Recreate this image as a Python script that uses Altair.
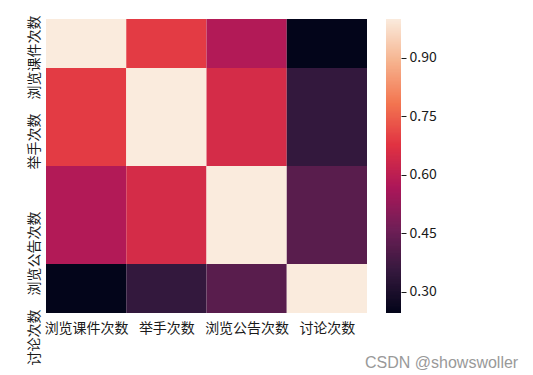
import altair as alt
import numpy as np
import pandas as pd

# ---- data -------------------------------------------------------------
labels = ["浏览课件次数", "举手次数", "浏览公告次数", "讨论次数"]
row0 = [1.00, 0.69, 0.58, 0.246]
row1 = [0.69, 1.00, 0.65, 0.35]
row2 = [0.58, 0.65, 1.00, 0.42]
row3 = [0.246, 0.35, 0.42, 1.00]
matrix = [row0, row1, row2, row3]
colorbar_ticks = [0.30, 0.45, 0.60, 0.75, 0.90]
rocket = ["#03051a", "#35193e", "#701f57", "#ad1759",
          "#e13342", "#f37651", "#f6b48f", "#faebdd"]
watermark = "CSDN @showswoller"

# ---- tables -------------------------------------------------------------
records = []
for r, row in enumerate(matrix):
    for c, v in enumerate(row):
        records.append({"row": r, "row_end": r + 1, "col": c, "col_end": c + 1, "value": v})
df = pd.DataFrame(records)

vmin = min(min(r) for r in matrix)
vmax = max(max(r) for r in matrix)

# colour-bar gradient strips (overlapping slightly so no seams show)
steps = np.linspace(vmin, vmax, 256)
step = steps[1] - steps[0]
cb = pd.DataFrame({"lo": steps[:-1]})
cb["hi"] = np.minimum(cb["lo"] + 2 * step, vmax)
cb["mid"] = cb["lo"] + step / 2

color_scale = alt.Scale(domain=[vmin, vmax], range=rocket, interpolate="rgb")

label_js = "[" + ",".join("'" + l + "'" for l in labels) + "]"
label_expr = label_js + "[floor(datum.value)]"
tick_pos = [i + 0.5 for i in range(len(labels))]

FONT = "Noto Sans CJK SC"
TXT = "#1a1a1a"

heat = alt.Chart(df).mark_rect(clip=True).encode(
    x=alt.X("col:Q",
            scale=alt.Scale(domain=[0, len(labels)], nice=False, zero=False),
            axis=alt.Axis(values=tick_pos, labelExpr=label_expr, title=None,
                          ticks=False, domain=False, grid=False, labelAngle=0,
                          labelPadding=8, labelFontSize=14, labelFont=FONT,
                          labelColor=TXT, labelFlush=False, labelOverlap=False)),
    x2="col_end:Q",
    y=alt.Y("row:Q",
            scale=alt.Scale(domain=[0.5, len(labels) - 0.5], nice=False, zero=False, reverse=True),
            axis=alt.Axis(values=tick_pos, labelExpr=label_expr, title=None,
                          ticks=False, domain=False, grid=False, labelAngle=270,
                          labelAlign="right", labelBaseline="bottom", labelOffset=-4,
                          labelPadding=5, labelFontSize=14, labelFont=FONT,
                          labelColor=TXT, labelFlush=False, labelOverlap=False)),
    y2="row_end:Q",
    color=alt.Color("value:Q", scale=color_scale, legend=None),
).properties(width=321, height=294)

bar = alt.Chart(cb).mark_rect(clip=True).encode(
    y=alt.Y("lo:Q",
            scale=alt.Scale(domain=[vmin, vmax], nice=False, zero=False),
            axis=alt.Axis(orient="right", values=colorbar_ticks, format=".2f",
                          title=None, domain=False, grid=False, ticks=True,
                          tickSize=5, tickColor=TXT, tickWidth=1,
                          labelPadding=3, labelFontSize=14, labelFont=FONT,
                          labelColor=TXT, labelFlush=False, labelOverlap=False)),
    y2="hi:Q",
    color=alt.Color("mid:Q", scale=color_scale, legend=None),
    order=alt.Order("lo:Q"),
).properties(width=15, height=294)

chart = alt.hconcat(heat, bar, spacing=19).resolve_scale(
    x="independent", y="independent", color="independent"
).properties(
    title=alt.TitleParams(watermark, orient="bottom", anchor="end", frame="bounds",
                          fontSize=16, font="Liberation Sans", color="#999999",
                          fontWeight="normal", dx=82, dy=-14),
    padding={"left": 27, "top": 15, "right": 5, "bottom": 5},
).configure_view(strokeWidth=0)

chart.save("out.html", embed_options={"renderer": "svg", "actions": False})
